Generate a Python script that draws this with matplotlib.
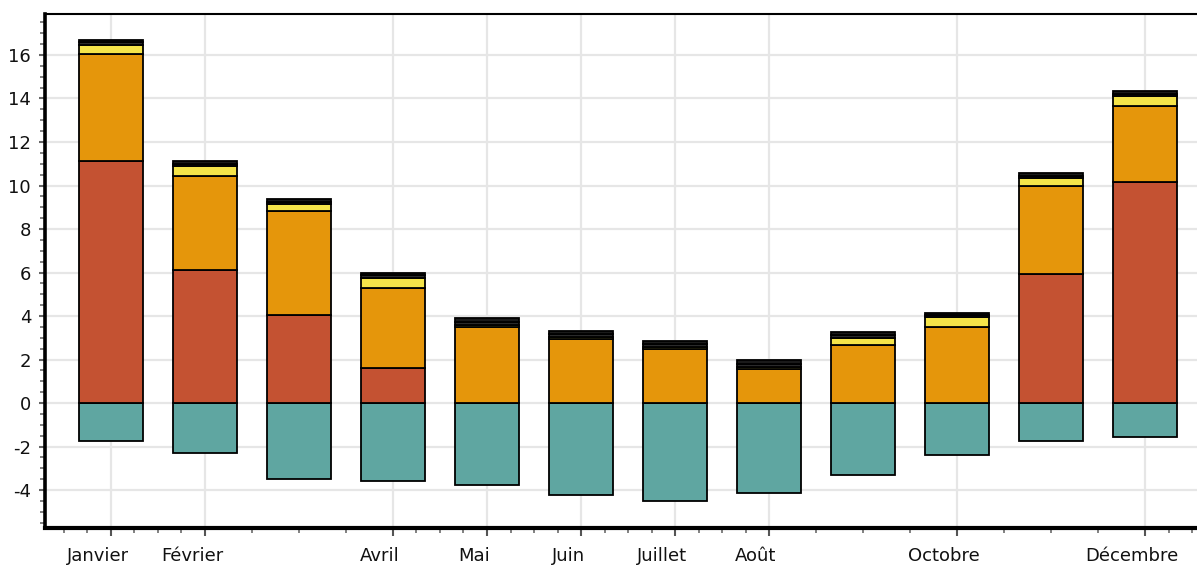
import matplotlib
matplotlib.use("Agg")
import matplotlib.pyplot as plt
import matplotlib.transforms as mtransforms
import numpy as np

# Months of the year; only some of them get a visible label on the axis
months = ["Janvier", "Février", "Mars", "Avril", "Mai", "Juin",
          "Juillet", "Août", "Septembre", "Octobre", "Novembre", "Décembre"]
labelled_months = ["Janvier", "Février", "Avril", "Mai", "Juin",
                   "Juillet", "Août", "Octobre", "Décembre"]

# Stacked monthly series
serie_sarcelle = [-1.75, -2.28, -3.48, -3.57, -3.77, -4.23,
                  -4.49, -4.12, -3.30, -2.39, -1.75, -1.58]
serie_rouge = [11.12, 6.10, 4.05, 1.60, 0.0, 0.0,
               0.0, 0.0, 0.0, 0.0, 5.92, 10.15]
serie_orange = [4.93, 4.35, 4.78, 3.70, 3.50, 2.94,
                2.47, 1.55, 2.67, 3.48, 4.06, 3.50]
serie_jaune = [0.41, 0.45, 0.32, 0.46, 0.10, 0.10,
               0.10, 0.10, 0.33, 0.49, 0.35, 0.46]
serie_e = [0.12, 0.11, 0.11, 0.11, 0.14, 0.13,
           0.14, 0.16, 0.12, 0.09, 0.11, 0.11]
serie_f = [0.13, 0.12, 0.12, 0.12, 0.15, 0.13,
           0.15, 0.17, 0.13, 0.09, 0.12, 0.12]

y_major = [-4, -2, 0, 2, 4, 6, 8, 10, 12, 14, 16]

colors = {
    "sarcelle": "#5fa6a1",
    "rouge": "#c45232",
    "orange": "#e5960b",
    "jaune": "#f5e44a",
    "e": "#2a2a2a",
    "f": "#1a1a1a",
}

plt.rcParams["font.family"] = ["DejaVu Sans"]

W, H = 1197, 568
fig = plt.figure(figsize=(W / 100, H / 100), dpi=100)
ax = fig.add_axes([45 / W, 40 / H, 1 - 45 / W, 514 / H])

x = np.arange(len(months))
width = 0.68
edge = dict(edgecolor="black", linewidth=1.3, zorder=3)

ax.bar(x, serie_sarcelle, width, color=colors["sarcelle"], **edge)

bottom = np.zeros(len(months))
for vals, key in [(serie_rouge, "rouge"), (serie_orange, "orange"),
                  (serie_jaune, "jaune"), (serie_e, "e"), (serie_f, "f")]:
    v = np.array(vals)
    ax.bar(x, v, width, bottom=bottom, color=colors[key], **edge)
    bottom = bottom + v

ax.set_xlim(-0.702, 11.553)
ax.set_ylim(-5.747, 17.885)

# x axis: labelled months carry major ticks + gridlines, the rest minor ticks
major_pos = [months.index(m) for m in labelled_months]
ax.set_xticks(major_pos)
ax.set_xticklabels(labelled_months)
minor_x = [-0.5, -0.25, 0.25, 0.5, 0.75, 1.5, 2, 2.5, 3.25, 3.5, 3.75,
           4.25, 4.5, 4.75, 5.25, 5.5, 5.75, 6.25, 6.5, 6.75, 7.5, 8, 8.5,
           9.5, 10, 10.5, 11.25, 11.5]
ax.set_xticks(minor_x, minor=True)

ax.set_yticks(y_major)
ax.set_yticklabels([str(v) for v in y_major])
ax.set_yticks(np.arange(-5.5, 17.6, 0.5), minor=True)

ax.grid(True, which="major", color="#e6e6e6", linewidth=1.6, zorder=0)
ax.set_axisbelow(True)

ax.tick_params(axis="x", which="major", length=6, width=1.5, color="#555555",
               pad=8, labelsize=13, labelcolor="#111111")
ax.tick_params(axis="x", which="minor", length=3.5, width=1.3, color="#777777")
ax.tick_params(axis="y", which="major", length=4, width=1.5, color="#666666",
               pad=6, labelsize=13, labelcolor="#111111")
ax.tick_params(axis="y", which="minor", length=3.5, width=1.3, color="#777777")

# month labels sit slightly to the left of their tick
shift = mtransforms.ScaledTranslation(-13 / 100, 0, fig.dpi_scale_trans)
for lbl in ax.get_xticklabels():
    lbl.set_transform(lbl.get_transform() + shift)

ax.spines["left"].set_linewidth(2.6)
ax.spines["bottom"].set_linewidth(3.0)
ax.spines["top"].set_linewidth(1.5)
ax.spines["right"].set_visible(False)
for s in ("left", "bottom", "top"):
    ax.spines[s].set_color("black")

fig.savefig("out.png", dpi=100)
